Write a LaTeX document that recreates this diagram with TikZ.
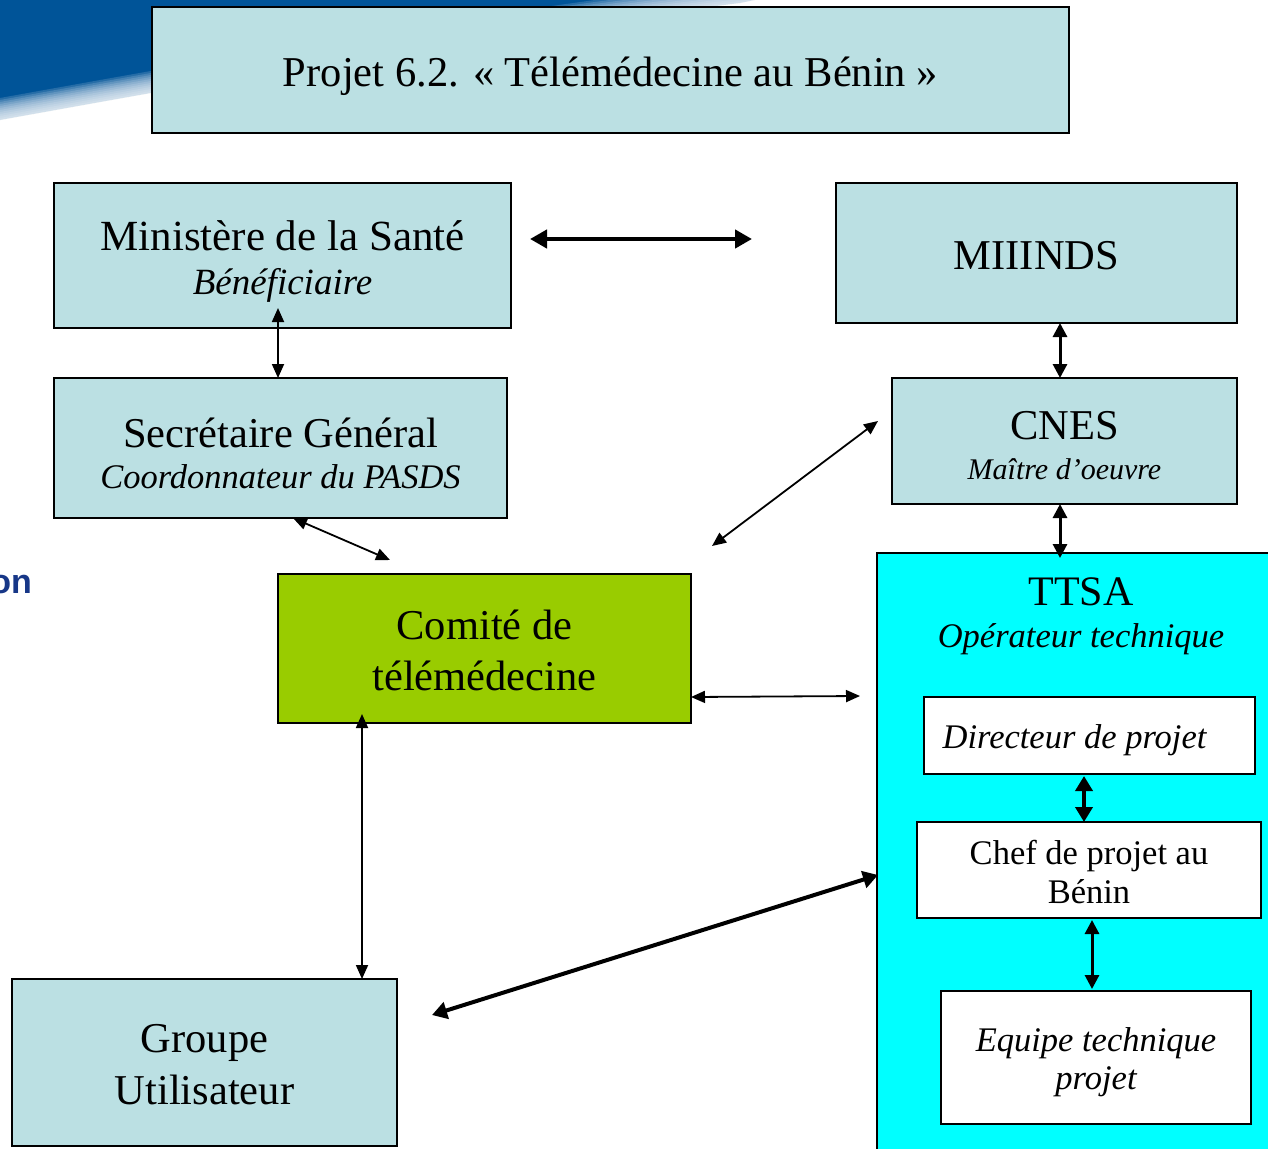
\documentclass[tikz,border=0pt]{standalone}
\usepackage{fontspec}
\setmainfont{Liberation Serif}
\newfontfamily\sansfam{Liberation Sans}
\usetikzlibrary{arrows.meta}
\definecolor{boxblue}{HTML}{BBE0E3}
\definecolor{comitegreen}{HTML}{99CC00}
\definecolor{ttsacyan}{HTML}{00FFFF}
\definecolor{slideblue}{RGB}{0,84,152}
\definecolor{navytext}{RGB}{23,55,135}
\tikzset{
  box/.style={draw=black, line width=1.6pt, fill=boxblue, inner sep=0pt, outer sep=0pt},
  whitebox/.style={box, fill=white},
  lbl/.style={inner sep=0pt, outer sep=0pt, align=center, text=black},
  thinarr/.style={line width=1.8pt, {Triangle[length=14pt,width=12pt]}-{Triangle[length=14pt,width=12pt]}},
  midarr/.style={line width=3pt, {Triangle[length=14pt,width=14pt]}-{Triangle[length=14pt,width=14pt]}},
  thickarr/.style={line width=4pt, {Triangle[length=15pt,width=17pt]}-{Triangle[length=15pt,width=17pt]}},
  bigarr/.style={line width=4.5pt, {Triangle[length=17pt,width=18pt]}-{Triangle[length=17pt,width=18pt]}},
  f42/.style={font=\fontsize{42.5}{44}\selectfont},
}
\begin{document}
\begin{tikzpicture}[x=1pt,y=-1pt]
\useasboundingbox (0,0) rectangle (1268,1148);
\clip (0,0) rectangle (1268,1148);
\fill[white] (0,0) rectangle (1268,1148);
% slide swoosh
\fill[slideblue] (0,-30) -- (0,120) .. controls (250,75) and (450,39) .. (740,3) -- (900,-30) -- cycle;
\foreach \s in {0,2,...,22}{
  \fill[white,opacity=0.15] (0,120-\s) .. controls (250,75-\s) and (450,39-\s) .. (740,3-\s) -- (1000,-40) -- (1000,300) -- (0,300) -- cycle;
}
\node[anchor=base east, inner sep=0pt, text=navytext, font=\sansfam\bfseries\fontsize{34}{34}\selectfont] (ontext) at (32,593) {on};

% boxes
\node[box, line width=2.4pt, minimum width=917pt, minimum height=126pt] (title) at (610.5,70) {};
\node[lbl, f42] (titletext) at ([shift={(0,6)}]title.center) {Projet 6.2. « Télémédecine au Bénin »};

\node[box, minimum width=457pt, minimum height=145pt] (ministere) at (282.5,255.5) {};
\node[lbl, font=\fontsize{43}{44}\selectfont] (ministeretext) at ([shift={(0,5.5)}]ministere.center)
  {Ministère de la Santé\\[0pt]{\fontsize{37}{37}\selectfont\itshape Bénéficiaire}};

\node[box, minimum width=401pt, minimum height=140pt] (miiinds) at (1036.5,253) {};
\node[lbl, f42] (miiindstext) at ([shift={(0,3)}]miiinds.center) {MIIINDS};

\node[box, minimum width=453pt, minimum height=140pt] (secretaire) at (280.5,448) {};
\node[lbl, f42] (secretairetext) at ([shift={(0,5)}]secretaire.center)
  {Secrétaire Général\\[-3pt]{\fontsize{34.5}{34}\selectfont\itshape Coordonnateur du PASDS}};

\node[box, minimum width=345pt, minimum height=126pt] (cnes) at (1064.5,441) {};
\node[lbl, f42] (cnestext) at ([shift={(0,4.5)}]cnes.center)
  {CNES\\[-4pt]{\fontsize{30}{30}\selectfont\itshape Maître d’oeuvre}};

\node[box, fill=comitegreen, minimum width=413pt, minimum height=149pt] (comite) at (484.5,648.5) {};
\node[lbl, font=\fontsize{42.5}{51}\selectfont] (comitetext) at ([shift={(0,2)}]comite.center)
  {Comité de\\télémédecine};

\node[box, fill=ttsacyan, minimum width=413pt, minimum height=617pt] (ttsa) at (1083.5,861.5) {};
\node[lbl, anchor=north, font=\fontsize{42}{42}\selectfont] (ttsatext) at (1081,578)
  {TTSA\\{\fontsize{34.5}{34}\selectfont\itshape Opérateur technique}};

\node[whitebox, minimum width=331pt, minimum height=77pt] (directeur) at (1089.5,735.5) {};
\node[lbl, font=\fontsize{34.5}{34}\selectfont\itshape] (directeurtext) at ([shift={(-15,5)}]directeur.center)
  {Directeur de projet};

\node[whitebox, minimum width=344pt, minimum height=96pt] (chef) at (1089,870) {};
\node[lbl, font=\fontsize{34.5}{39}\selectfont] (cheftext) at ([shift={(0,2)}]chef.center)
  {Chef de projet au\\Bénin};

\node[whitebox, minimum width=310pt, minimum height=133pt] (equipe) at (1096,1057.5) {};
\node[lbl, font=\fontsize{34.5}{38}\selectfont\itshape] (equipetext) at ([shift={(0,5)}]equipe.center)
  {Equipe technique\\projet};

\node[box, minimum width=385pt, minimum height=167pt] (groupe) at (204.5,1062.5) {};
\node[lbl, font=\fontsize{42.5}{52}\selectfont] (groupetext) at ([shift={(0,2)}]groupe.center)
  {Groupe\\Utilisateur};

% connectors
\draw[bigarr] ([shift={(19,-16.5)}]ministere.east) -- ([shift={(-84,-14)}]miiinds.west);
\draw[thinarr] ([shift={(-4.5,-20)}]ministere.south) -- ([shift={(-2.5,0)}]secretaire.north);
\draw[midarr] ([shift={(23.5,0)}]miiinds.south) -- ([shift={(-4.5,0)}]cnes.north);
\draw[midarr] ([shift={(-4.5,0)}]cnes.south) -- ([shift={(-23.5,5)}]ttsa.north);
\draw[thinarr] ([shift={(12.5,0)}]secretaire.south) -- ([shift={(-94.5,-14)}]comite.north);
\draw[thinarr] ([shift={(-14,-20)}]cnes.west) -- ([shift={(21,-28)}]comite.north east);
\draw[thinarr] ([shift={(0,48.5)}]comite.east) -- ([shift={(-17,-165.5)}]ttsa.west);
\draw[thinarr] ([shift={(-122.5,-9)}]comite.south) -- ([shift={(157.5,0)}]groupe.north);
\draw[thickarr] ([shift={(35,-47.5)}]groupe.east) -- ([shift={(1,13.5)}]ttsa.west);
\draw[thickarr] ([shift={(-5.5,2)}]directeur.south) -- ([shift={(-5,0)}]chef.north);
\draw[midarr] ([shift={(3,2)}]chef.south) -- ([shift={(-4,-2)}]equipe.north);
\end{tikzpicture}
\end{document}
